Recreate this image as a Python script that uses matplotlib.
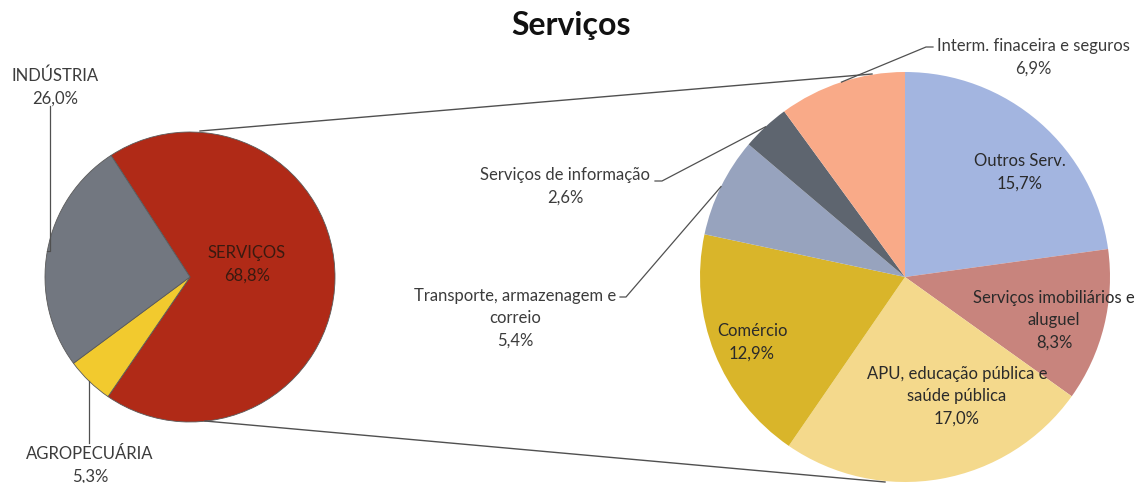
import matplotlib
matplotlib.use("Agg")
import matplotlib.pyplot as plt
import numpy as np

plt.rcParams['font.family'] = ['Lato', 'DejaVu Sans']

# ---- data ----
main_labels = ["SERVIÇOS", "AGROPECUÁRIA", "INDÚSTRIA"]
main_values = [68.8, 5.3, 26.0]
main_colors = ["#B02A17", "#F2CA2E", "#727780"]

sub_labels = ["Outros Serv.", "Serviços imobiliários e\naluguel",
              "APU, educação pública e\nsaúde pública", "Comércio",
              "Transporte, armazenagem e\ncorreio", "Serviços de informação",
              "Interm. finaceira e seguros"]
sub_values = [15.7, 8.3, 17.0, 12.9, 5.4, 2.6, 6.9]
sub_colors = ["#A3B5E0", "#C8847D", "#F4D98C", "#D9B52A", "#97A3BE", "#5E656F", "#F9AA88"]

W, H = 1144, 483
fig = plt.figure(figsize=(W / 100, H / 100), dpi=100)
ax = fig.add_axes([0, 0, 1, 1])

def fmt(v):
    return f"{v:.1f}%".replace('.', ',')

# left pie
lc = (190, H - 277); lr = 145
lw, _ = ax.pie(main_values, colors=main_colors, startangle=123, counterclock=False,
               center=lc, radius=lr, frame=True,
               wedgeprops=dict(edgecolor='#5a5a5a', linewidth=0.6))

# right pie
rc = (905, H - 277); rr = 205
rw, _ = ax.pie(sub_values, colors=sub_colors, startangle=90, counterclock=False,
               center=rc, radius=rr, frame=True,
               wedgeprops=dict(edgecolor='none', linewidth=0))
ax.set_xlim(0, W); ax.set_ylim(0, H); ax.set_aspect('equal'); ax.axis('off')

def edge_point(w):
    ang = np.deg2rad((w.theta1 + w.theta2) / 2)
    cx, cy = w.center
    return cx + w.r * np.cos(ang), cy + w.r * np.sin(ang)

fs = 12
ls = 1.5
tc = '#3c3c3c'
lc_ = '#505050'
# left labels
ax.text(247, H - 264, main_labels[0] + "\n" + fmt(main_values[0]), ha='center', va='center',
        fontsize=fs, color='#3a1a10', linespacing=ls)
ex, ey = edge_point(lw[2])
ax.plot([50, 50, ex], [H - 106, ey, ey], color=lc_, lw=0.9)
ax.text(55, H - 87, main_labels[2] + "\n" + fmt(main_values[2]), ha='center', va='center',
        fontsize=fs, color=tc, linespacing=ls)
ex, ey = edge_point(lw[1])
ax.plot([ex, ex], [ey, H - 443], color=lc_, lw=0.9)
ax.text(90, H - 465, main_labels[1] + "\n" + fmt(main_values[1]), ha='center', va='center',
        fontsize=fs, color=tc, linespacing=ls)

# connecting lines
ax.plot([200, 872], [H - 131, H - 74], color=lc_, lw=1.0)
ax.plot([205, 885], [H - 421, H - 482], color=lc_, lw=1.0)

# right inside labels
inside = {0: (1020, 172), 1: (1054, 320), 2: (957, 396), 3: (752, 342)}
for i, (x, y) in inside.items():
    ax.text(x, H - y, sub_labels[i] + "\n" + fmt(sub_values[i]), ha='center', va='center',
            fontsize=fs, color='#2a2a2a', linespacing=ls)

# outside labels with leaders
ex, ey = edge_point(rw[4])
ax.plot([620, 626, ex], [H - 297, H - 297, ey], color=lc_, lw=0.9)
ax.text(515, H - 318, sub_labels[4] + "\n" + fmt(sub_values[4]), ha='center', va='center',
        fontsize=fs, color=tc, linespacing=ls)
ex, ey = edge_point(rw[5])
ax.plot([655, 662, ex], [H - 181, H - 181, ey], color=lc_, lw=0.9)
ax.text(565, H - 186, sub_labels[5] + "\n" + fmt(sub_values[5]), ha='center', va='center',
        fontsize=fs, color=tc, linespacing=ls)
ex, ey = edge_point(rw[6])
ax.plot([933, 926, ex], [H - 47, H - 47, ey], color=lc_, lw=0.9)
ax.text(1033, H - 57, sub_labels[6] + "\n" + fmt(sub_values[6]), ha='center', va='center',
        fontsize=fs, color=tc, linespacing=ls)

# title
ax.text(571, H - 25, "Serviços", ha='center', va='center', fontsize=23, fontweight='bold',
        color='#111111')

fig.savefig("out.png", dpi=100)
